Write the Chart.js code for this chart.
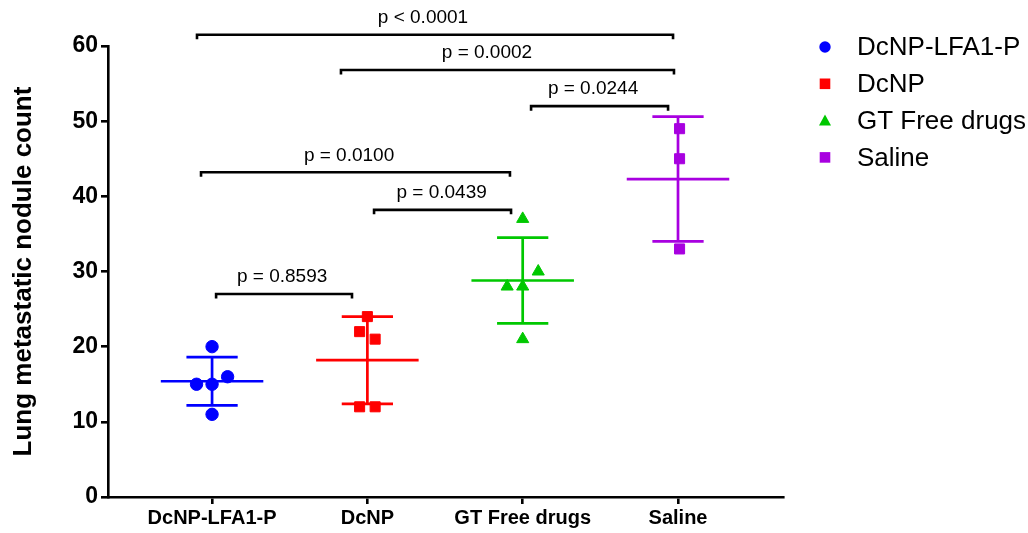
<!DOCTYPE html>
<html>
<head>
<meta charset="utf-8">
<script src="https://cdn.jsdelivr.net/npm/chart.js@4/dist/chart.umd.min.js"></script>
<style>
  html, body { margin: 0; padding: 0; background: #fff; }
  #wrap { width: 1028px; height: 533px; position: relative; }
</style>
</head>
<body>
<div id="wrap"><canvas id="chart"></canvas></div>
<script>
const groups = ["DcNP-LFA1-P", "DcNP", "GT Free drugs", "Saline"];
const lfaValues = [20, 16, 15, 15, 11];
const lfaJitter = [0, 0.1, -0.1, 0, 0];
const dcnpValues = [24, 22, 21, 12, 12];
const dcnpJitter = [0, -0.05, 0.05, -0.05, 0.05];
const freeValues = [37, 30, 28, 28, 21];
const freeJitter = [0, 0.1, -0.1, 0, 0];
const salineValues = [49, 45, 33];
const salineJitter = [0.01, 0.01, 0.01];

// mean and SD of each group
const means = [15.4, 18.2, 28.8, 42.3];
const sds = [3.2, 5.8, 5.7, 8.3];

// significance brackets
const pLabels = ["p < 0.0001", "p = 0.0002", "p = 0.0244", "p = 0.0100", "p = 0.0439", "p = 0.8593"];
const bracketFrom = [-0.097, 0.83, 2.054, -0.071, 1.043, 0.026];
const bracketTo = [2.968, 2.974, 2.936, 1.918, 1.925, 0.901];
const bracketLevel = [61.5, 56.8, 52.0, 43.2, 38.2, 27.0];
const pLabelX = [1.358, 1.77, 2.453, 0.882, 1.478, 0.451];

const yTicks = [0, 10, 20, 30, 40, 50, 60];

const colors = ["#0000ff", "#ff0000", "#00c800", "#a800e0"];
const markers = ["circle", "rect", "triangle", "rect"];
const markerSize = [6.2, 7.1, 7, 7.1];
const FONT = "'Liberation Sans', Arial, sans-serif";

Chart.defaults.font.family = FONT;
Chart.defaults.color = "#000";

const allValues = [lfaValues, dcnpValues, freeValues, salineValues];
const allJitter = [lfaJitter, dcnpJitter, freeJitter, salineJitter];

const pointSets = allValues.map((vals, i) => ({
  type: "scatter",
  label: groups[i],
  data: vals.map((v, k) => ({ x: i + allJitter[i][k], y: v })),
  pointStyle: markers[i],
  pointRadius: markerSize[i],
  backgroundColor: colors[i],
  borderColor: colors[i],
  borderWidth: 1,
  order: 0
}));

const meanHalf = 0.33;
const capHalf = 0.165;

const errorSets = means.map((m, i) => {
  const s = sds[i];
  const gap = { x: i, y: null };
  return {
    type: "line",
    data: [
      { x: i - meanHalf, y: m }, { x: i + meanHalf, y: m }, gap,
      { x: i, y: m - s }, { x: i, y: m + s }, gap,
      { x: i - capHalf, y: m + s }, { x: i + capHalf, y: m + s }, gap,
      { x: i - capHalf, y: m - s }, { x: i + capHalf, y: m - s }
    ],
    borderColor: colors[i],
    borderWidth: 2.7,
    pointRadius: 0,
    spanGaps: false,
    order: 1
  };
});

const drop = 0.6;
const bracketData = [];
bracketLevel.forEach((lv, k) => {
  bracketData.push(
    { x: bracketFrom[k], y: lv - drop },
    { x: bracketFrom[k], y: lv },
    { x: bracketTo[k], y: lv },
    { x: bracketTo[k], y: lv - drop },
    { x: bracketTo[k], y: null }
  );
});

const bracketSet = {
  type: "line",
  data: bracketData,
  borderColor: "#000",
  borderWidth: 2.6,
  pointRadius: 0,
  spanGaps: false,
  clip: false,
  order: 2
};

const pValuePlugin = {
  id: "pValues",
  afterDatasetsDraw(chart) {
    const { ctx, scales } = chart;
    ctx.save();
    ctx.fillStyle = "#000";
    ctx.font = "19px " + FONT;
    ctx.textAlign = "center";
    ctx.textBaseline = "middle";
    pLabels.forEach((t, k) => {
      const px = scales.x.getPixelForValue(pLabelX[k]);
      const py = scales.y.getPixelForValue(bracketLevel[k]) - 17;
      ctx.fillText(t, px, py);
    });
    ctx.restore();
  }
};

const legendPlugin = {
  id: "sideLegend",
  afterDraw(chart) {
    const { ctx, chartArea } = chart;
    const x0 = chartArea.right + 42;
    const y0 = 47;
    const rowH = 36.8;
    ctx.save();
    ctx.font = "26px " + FONT;
    ctx.textBaseline = "middle";
    ctx.textAlign = "left";
    groups.forEach((g, i) => {
      const cy = y0 + i * rowH;
      ctx.fillStyle = colors[i];
      ctx.beginPath();
      if (markers[i] === "circle") {
        ctx.arc(x0, cy, 5.7, 0, Math.PI * 2);
      } else if (markers[i] === "rect") {
        ctx.rect(x0 - 5.3, cy - 5.3, 10.6, 10.6);
      } else {
        ctx.moveTo(x0, cy - 6);
        ctx.lineTo(x0 + 6, cy + 4.8);
        ctx.lineTo(x0 - 6, cy + 4.8);
        ctx.closePath();
      }
      ctx.fill();
      ctx.fillStyle = "#000";
      ctx.fillText(g, x0 + 32, cy + 1);
    });
    ctx.restore();
  }
};

new Chart(document.getElementById("chart"), {
  type: "scatter",
  data: { datasets: [...pointSets, ...errorSets, bracketSet] },
  options: {
    responsive: true,
    maintainAspectRatio: false,
    animation: false,
    layout: { padding: { top: 46, right: 245, left: 0, bottom: 0 } },
    plugins: {
      legend: { display: false },
      tooltip: { enabled: false }
    },
    scales: {
      x: {
        type: "linear",
        min: -0.67,
        max: 3.676,
        afterBuildTicks(scale) {
          scale.ticks = groups.map((g, i) => ({ value: i }));
        },
        afterFit(scale) { scale.height = 36; },
        ticks: {
          autoSkip: false,
          maxRotation: 0,
          padding: 2,
          font: { size: 20, weight: "bold" },
          color: "#000",
          callback: (v) => groups[v]
        },
        grid: {
          drawOnChartArea: false,
          color: "#000",
          lineWidth: 2.6,
          tickLength: 7
        },
        border: { display: true, color: "#000", width: 2.6 }
      },
      y: {
        min: 0,
        max: 60,
        afterBuildTicks(scale) {
          scale.ticks = yTicks.map(v => ({ value: v }));
        },
        afterFit(scale) { scale.width = 108; },
        ticks: {
          padding: 3,
          font: { size: 23, weight: "bold" },
          color: "#000"
        },
        grid: {
          drawOnChartArea: false,
          color: "#000",
          lineWidth: 2.6,
          tickLength: 7
        },
        border: { display: true, color: "#000", width: 2.6 },
        title: {
          display: true,
          text: "Lung metastatic nodule count",
          font: { size: 26, weight: "bold" },
          color: "#000",
          padding: { top: 8, bottom: 0 }
        }
      }
    }
  },
  plugins: [pValuePlugin, legendPlugin]
});
</script>
</body>
</html>
